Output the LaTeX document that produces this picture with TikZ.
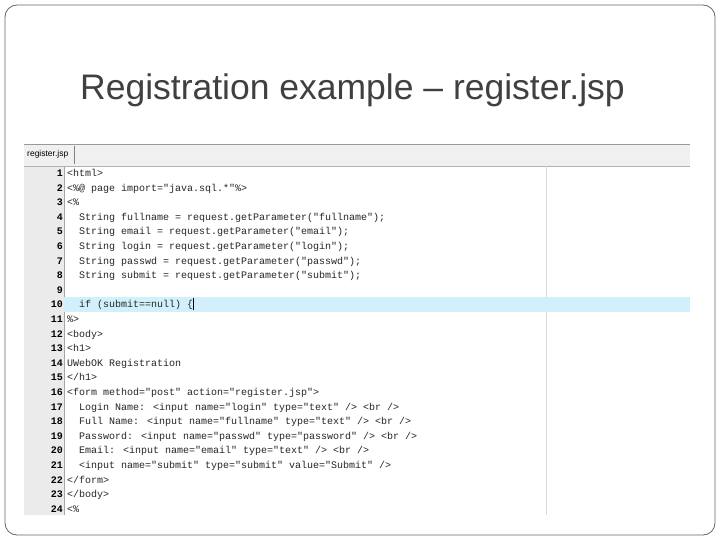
\documentclass[tikz,border=0pt]{standalone}
\usepackage{fontspec}
\setmainfont{Liberation Sans}
\newfontfamily\codefont{Liberation Mono}
\begin{document}
\begin{tikzpicture}[x=1pt,y=-1pt,
  code/.style={anchor=base west,inner sep=0pt,font=\codefont\fontsize{10}{12}\selectfont,text=black!85},
  num/.style={anchor=base east,inner sep=0pt,font=\codefont\bfseries\fontsize{10}{12}\selectfont}]
\useasboundingbox (0,0) rectangle (720,540);
\fill[white] (0,0) rectangle (720,540);
\draw[black!60,rounded corners=12pt,line width=0.8pt] (5,5) rectangle (715,535);
\node[anchor=base west,inner sep=0pt,text=black!75,font=\fontsize{35.5}{40}\selectfont] (title) at (80,100) {Registration example – register.jsp};
% panel
\fill[black!6] (24,144) rectangle (690,166);
\draw[black!40] (24,144) -- (690,144);
\node[anchor=base west,inner sep=0pt,font=\fontsize{8.5}{10}\selectfont] (tab) at (27,157) {register.jsp};
\draw[black!50] (74,146) -- (74,164);
\fill[white] (24,166) rectangle (690,515);
\fill[black!8] (24,166) rectangle (64,515);
\draw[black!35] (64,166) -- (64,515);
\draw[black!30] (24,166) -- (690,166);
\draw[black!15] (546,166) -- (546,515);
\fill[cyan!18] (64,297) rectangle (690,312);
\draw (193,298) -- (193,310);
\foreach \n/\t in {1/{<html>},2/{<\%@ page import="java.sql.*"\%>},3/{<\%},
4/{\ \ String fullname = request.getParameter("fullname");},
5/{\ \ String email = request.getParameter("email");},
6/{\ \ String login = request.getParameter("login");},
7/{\ \ String passwd = request.getParameter("passwd");},
8/{\ \ String submit = request.getParameter("submit");},
9/{},
10/{\ \ if (submit==null) \{},
11/{\%>},12/{<body>},13/{<h1>},14/{UWebOK Registration},15/{</h1>},
16/{<form method="post" action="register.jsp">},
17/{\ \ Login Name: <input name="login" type="text" /> <br />},
18/{\ \ Full Name: <input name="fullname" type="text" /> <br />},
19/{\ \ Password: <input name="passwd" type="password" /> <br />},
20/{\ \ Email: <input name="email" type="text" /> <br />},
21/{\ \ <input name="submit" type="submit" value="Submit" />},
22/{</form>},23/{</body>},24/{<\%}}{
  \node[num] (n\n) at (63,{176.5+(\n-1)*14.6}) {\n};
  \node[code] (c\n) at (67,{176.5+(\n-1)*14.6}) {\t};
}
\end{tikzpicture}
\end{document}
